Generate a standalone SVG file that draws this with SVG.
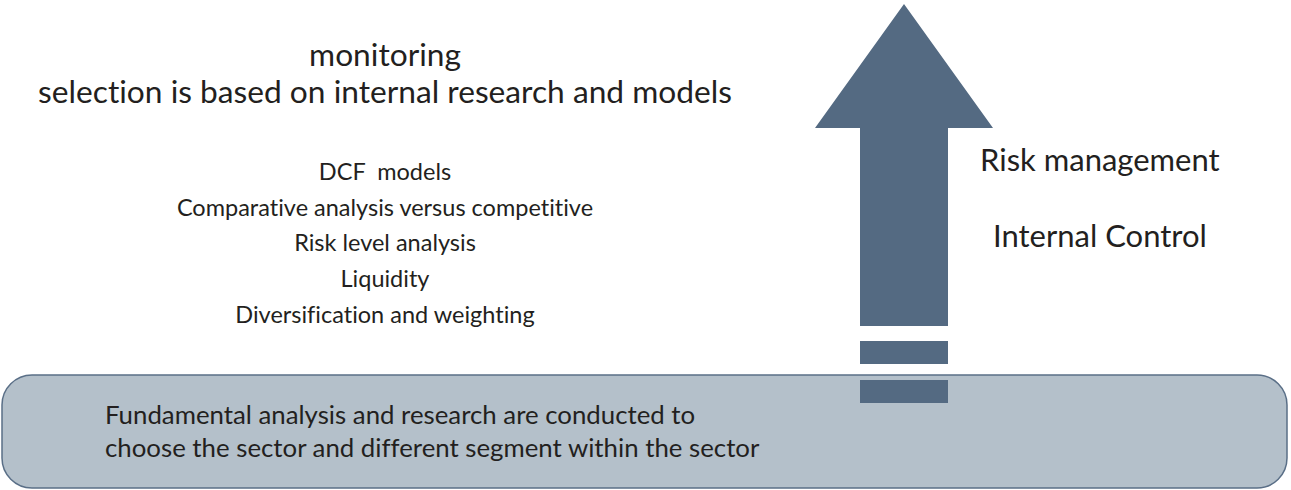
<svg xmlns="http://www.w3.org/2000/svg" width="1291" height="490" viewBox="0 0 1291 490">
<style>
text{font-family:Lato,"Open Sans","DejaVu Sans",sans-serif;fill:#231f20;font-variant-ligatures:none;white-space:pre}
.h{font-size:31.7px;text-anchor:middle}
.l{font-size:23.5px;text-anchor:middle}
.r{font-size:31px}
.b{font-size:25.8px}
.ar{fill:#546a82}
</style>
<g id="base">
<rect x="2" y="375" width="1285" height="113" rx="30" ry="30" fill="#b4c0ca" stroke="#5a6f87" stroke-width="1.5"/>
<text class="b" x="105" y="424">Fundamental analysis and research are conducted to</text>
<text class="b" x="105" y="457">choose the sector and different segment within the sector</text>
</g>
<g id="arrow">
<polygon class="ar" points="904,4 993,128 948,128 948,326 860,326 860,128 815,128"/>
<rect class="ar" x="860" y="341" width="88" height="23"/>
<rect class="ar" x="860" y="380" width="88" height="23"/>
</g>
<g id="top-text">
<text class="h" x="385" y="66">monitoring</text>
<text class="h" x="385" y="103">selection is based on internal research and models</text>
</g>
<g id="list">
<text class="l" x="385" y="180" xml:space="preserve">DCF  models</text>
<text class="l" x="385" y="216">Comparative analysis versus competitive</text>
<text class="l" x="385" y="251">Risk level analysis</text>
<text class="l" x="385" y="287">Liquidity</text>
<text class="l" x="385" y="323">Diversification and weighting</text>
</g>
<g id="right-labels">
<text class="r" x="980" y="171">Risk management</text>
<text class="r" x="993" y="247">Internal Control</text>
</g>
</svg>
